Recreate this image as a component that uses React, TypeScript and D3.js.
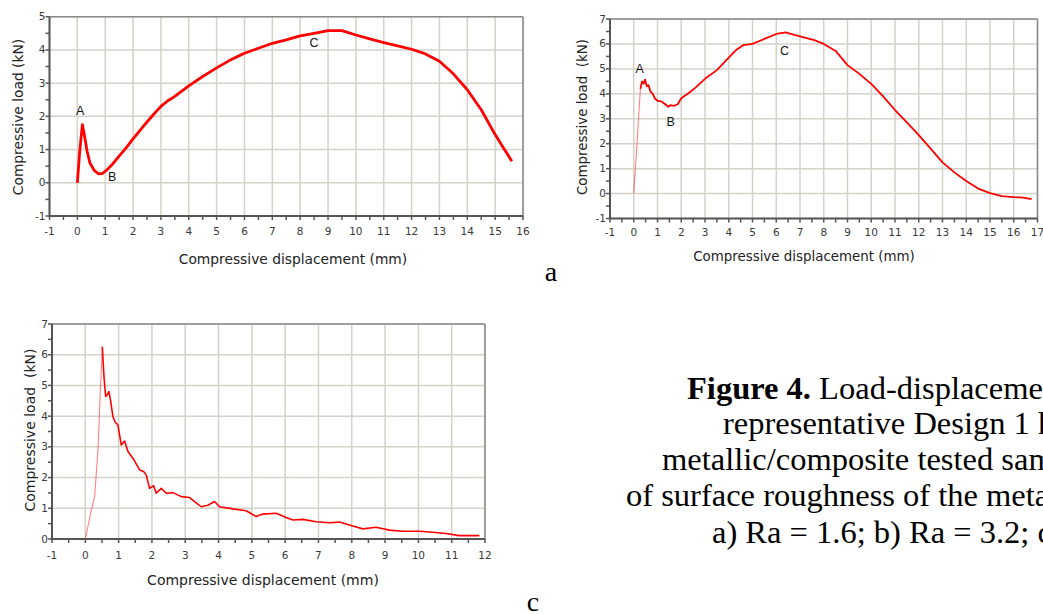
import React from 'react';
import * as d3 from 'd3';

type Pt = [number, number];

// ---- Data ----
const seriesA: Pt[] = [[0,0],[0.08,0.9],[0.18,1.75],[0.25,1.45],[0.35,0.95],[0.45,0.6],[0.6,0.38],[0.75,0.27],[0.9,0.28],[1.05,0.38],[1.25,0.55],[1.5,0.8],[1.75,1.05],[2,1.32],[2.25,1.58],[2.5,1.83],[2.75,2.07],[3,2.3],[3.25,2.47],[3.5,2.6],[3.75,2.76],[4,2.92],[4.5,3.2],[5,3.46],[5.5,3.7],[6,3.9],[6.5,4.05],[7,4.2],[7.5,4.3],[8,4.42],[8.5,4.5],[9,4.58],[9.5,4.58],[10,4.45],[10.5,4.33],[11,4.22],[11.5,4.12],[12,4.02],[12.5,3.88],[13,3.66],[13.5,3.28],[14,2.8],[14.5,2.2],[15,1.45],[15.3,1.05],[15.6,0.65]];

const seriesBRise: Pt[] = [[0,0],[0.15,2.2],[0.28,4.2]];
const seriesB: Pt[] = [[0.28,4.2],[0.35,4.5],[0.42,4.4],[0.48,4.57],[0.55,4.3],[0.62,4.35],[0.7,4.1],[0.8,4.0],[0.9,3.8],[1.0,3.72],[1.15,3.7],[1.3,3.6],[1.45,3.48],[1.55,3.55],[1.7,3.52],[1.85,3.58],[2,3.82],[2.3,4.02],[2.6,4.25],[3,4.6],[3.5,4.95],[4,5.45],[4.3,5.75],[4.6,5.95],[5,6.0],[5.5,6.2],[6,6.4],[6.4,6.46],[6.8,6.35],[7.2,6.25],[7.6,6.15],[8,6.0],[8.5,5.72],[9,5.15],[9.5,4.8],[10,4.4],[10.5,3.9],[11,3.35],[11.5,2.85],[12,2.34],[12.5,1.8],[13,1.25],[13.5,0.85],[14,0.5],[14.5,0.2],[15,0.02],[15.5,-0.1],[16,-0.14],[16.4,-0.16],[16.75,-0.22]];

const seriesCRise: Pt[] = [[0,0],[0.18,0.94],[0.28,1.38],[0.38,2.9],[0.45,4.8],[0.51,6.26]];
const seriesC: Pt[] = [[0.51,6.26],[0.56,5.3],[0.61,4.64],[0.66,4.7],[0.71,4.8],[0.76,4.5],[0.83,3.98],[0.9,3.8],[0.98,3.71],[1.08,3.06],[1.18,3.19],[1.28,2.85],[1.43,2.63],[1.63,2.25],[1.75,2.2],[1.83,2.08],[1.93,1.65],[2.05,1.74],[2.13,1.49],[2.28,1.65],[2.43,1.49],[2.63,1.51],[2.88,1.38],[3.13,1.35],[3.33,1.18],[3.48,1.05],[3.68,1.1],[3.88,1.22],[4.03,1.05],[4.43,0.98],[4.83,0.92],[5.13,0.73],[5.33,0.81],[5.73,0.84],[6.03,0.7],[6.23,0.62],[6.53,0.64],[6.93,0.56],[7.33,0.53],[7.63,0.55],[8.03,0.42],[8.33,0.33],[8.73,0.38],[9.13,0.29],[9.53,0.25],[10.03,0.25],[10.43,0.22],[10.83,0.18],[11.23,0.11],[11.83,0.11]];

const xTicksA = [-1,0,1,2,3,4,5,6,7,8,9,10,11,12,13,14,15,16];
const yTicksA = [-1,0,1,2,3,4,5];
const xTicksB = [-1,0,1,2,3,4,5,6,7,8,9,10,11,12,13,14,15,16,17];
const yTicksB = [-1,0,1,2,3,4,5,6,7];
const xTicksC = [-1,0,1,2,3,4,5,6,7,8,9,10,11,12];
const yTicksC = [0,1,2,3,4,5,6,7];

const labelsA: { t: string; x: number; y: number }[] = [
  { t: 'A', x: 0.1, y: 2.05 },
  { t: 'B', x: 1.25, y: 0.05 },
  { t: 'C', x: 8.5, y: 4.1 },
];
const labelsB: { t: string; x: number; y: number }[] = [
  { t: 'A', x: 0.25, y: 4.85 },
  { t: 'B', x: 1.55, y: 2.7 },
  { t: 'C', x: 6.35, y: 5.55 },
];

const captionLines = [
  'representative Design 1 hybrid',
  'metallic/composite tested samples',
  'of surface roughness of the metallic',
  'a) Ra = 1.6; b) Ra = 3.2; c) Ra = 6.3.',
];

const xTitle = 'Compressive displacement (mm)';

interface PanelProps {
  left: number; right: number; top: number; bottom: number;
  xDomain: [number, number]; yDomain: [number, number];
  xTicks: number[]; yTicks: number[];
  rise?: Pt[]; main: Pt[]; mainWidth: number;
  labels?: { t: string; x: number; y: number }[];
  xTitleX: number; xTitleY: number;
  yTitle: string; yTitleX: number; yTitleY: number;
  xLabelY: number; titleSize: number;
}

const Panel: React.FC<PanelProps> = (p) => {
  const x = d3.scaleLinear().domain(p.xDomain).range([p.left, p.right]);
  const y = d3.scaleLinear().domain(p.yDomain).range([p.bottom, p.top]);
  const line = d3.line<Pt>().x((d) => x(d[0])).y((d) => y(d[1]));
  const xMinor = p.xTicks.slice(0, -1).map((t) => t + 0.5);
  const yMinor = p.yTicks.slice(0, -1).map((t) => t + 0.5);
  const tickFont = { fontFamily: 'DejaVu Sans, Verdana, sans-serif', fontSize: 10.5, fill: '#3a3a3a' };
  return (
    <g>
      {p.xTicks.map((t) => (
        <line key={'gx' + t} x1={x(t)} x2={x(t)} y1={p.top} y2={p.bottom} stroke="#d3d1c8" strokeWidth={1.5} />
      ))}
      {p.yTicks.map((t) => (
        <line key={'gy' + t} x1={p.left} x2={p.right} y1={y(t)} y2={y(t)} stroke="#d3d1c8" strokeWidth={1.5} />
      ))}
      <line x1={p.left} x2={p.right} y1={p.top} y2={p.top} stroke="#8a8a8a" strokeWidth={1.5} />
      <line x1={p.right} x2={p.right} y1={p.top} y2={p.bottom} stroke="#8a8a8a" strokeWidth={1.5} />
      <line x1={p.left} x2={p.left} y1={p.top} y2={p.bottom + 1} stroke="#555" strokeWidth={2} />
      <line x1={p.left - 1} x2={p.right} y1={p.bottom} y2={p.bottom} stroke="#555" strokeWidth={2} />
      {[...p.yTicks, ...yMinor].map((t) => (
        <line key={'ty' + t} x1={p.left - 4} x2={p.left} y1={y(t)} y2={y(t)} stroke="#555" strokeWidth={1.5} />
      ))}
      {[...p.xTicks, ...xMinor].map((t) => (
        <line key={'tx' + t} x1={x(t)} x2={x(t)} y1={p.bottom} y2={p.bottom + 4} stroke="#555" strokeWidth={1.5} />
      ))}
      {p.yTicks.map((t) => (
        <text key={'ly' + t} x={p.left - 4} y={y(t) + 3.5} textAnchor="end" {...tickFont}>{t}</text>
      ))}
      {p.xTicks.map((t) => (
        <text key={'lx' + t} x={x(t)} y={p.xLabelY} textAnchor="middle" {...tickFont}>{t}</text>
      ))}
      {p.rise && (
        <path d={line(p.rise) || ''} fill="none" stroke="#ff3030" strokeOpacity={0.6} strokeWidth={1.1} />
      )}
      <path d={line(p.main) || ''} fill="none" stroke="#ff0000" strokeWidth={p.mainWidth} strokeLinejoin="round" />
      {p.labels && p.labels.map((l) => (
        <text key={l.t} x={x(l.x)} y={y(l.y)} textAnchor="middle" fontFamily="Liberation Sans, Arial, sans-serif" fontSize={12.5} fill="#111">{l.t}</text>
      ))}
      <text x={p.xTitleX} y={p.xTitleY} textAnchor="middle" fontFamily="DejaVu Sans, Verdana, sans-serif" fontSize={p.titleSize} fill="#222">{xTitle}</text>
      <text transform={`translate(${p.yTitleX},${p.yTitleY}) rotate(-90)`} textAnchor="middle" fontFamily="DejaVu Sans, Verdana, sans-serif" fontSize={p.titleSize} fill="#222" style={{ whiteSpace: 'pre' }}>{p.yTitle}</text>
    </g>
  );
};

export default function App() {
  const serif = 'Liberation Serif, Times New Roman, serif';
  const cap = 32.5;
  return (
    <div style={{ position: 'fixed', left: 0, top: 0, width: 1043, height: 614, background: '#fff' }}>
      <svg width={1043} height={614} style={{ display: 'block' }}>
        <rect width={1043} height={614} fill="#fff" />
        <Panel
          left={49.5} right={523} top={16.7} bottom={216}
          xDomain={[-1, 16]} yDomain={[-1, 5]}
          xTicks={xTicksA} yTicks={yTicksA}
          main={seriesA} mainWidth={2.8} labels={labelsA}
          xTitleX={293} xTitleY={264}
          yTitle="Compressive load (kN)" yTitleX={23} yTitleY={117}
          xLabelY={235} titleSize={13.8}
        />
        <Panel
          left={610} right={1037.5} top={19} bottom={218.5}
          xDomain={[-1, 17]} yDomain={[-1, 7]}
          xTicks={xTicksB} yTicks={yTicksB}
          rise={seriesBRise} main={seriesB} mainWidth={1.8} labels={labelsB}
          xTitleX={804} xTitleY={261}
          yTitle="Compressive load  (kN)" yTitleX={587} yTitleY={117}
          xLabelY={236} titleSize={13.4}
        />
        <Panel
          left={52} right={485} top={324} bottom={539}
          xDomain={[-1, 12]} yDomain={[0, 7]}
          xTicks={xTicksC} yTicks={yTicksC}
          rise={seriesCRise} main={seriesC} mainWidth={1.6}
          xTitleX={263} xTitleY={585}
          yTitle="Compressive load  (kN)" yTitleX={35} yTitleY={430}
          xLabelY={559} titleSize={14}
        />
        <text x={551} y={281} fontFamily={serif} fontSize={28} textAnchor="middle" fill="#000">a</text>
        <text x={533} y={611} fontFamily={serif} fontSize={28} textAnchor="middle" fill="#000">c</text>
        <text x={687} y={399} fontFamily={serif} fontSize={cap} fill="#000">
          <tspan fontWeight="bold">Figure 4.</tspan>
          <tspan> Load-displacement</tspan>
        </text>
        <text x={723} y={434} fontFamily={serif} fontSize={cap} fill="#000">{captionLines[0]}</text>
        <text x={662} y={470} fontFamily={serif} fontSize={cap} fill="#000">{captionLines[1]}</text>
        <text x={626} y={506} fontFamily={serif} fontSize={cap} fill="#000">{captionLines[2]}</text>
        <text x={712} y={543} fontFamily={serif} fontSize={cap} fill="#000">{captionLines[3]}</text>
      </svg>
    </div>
  );
}
